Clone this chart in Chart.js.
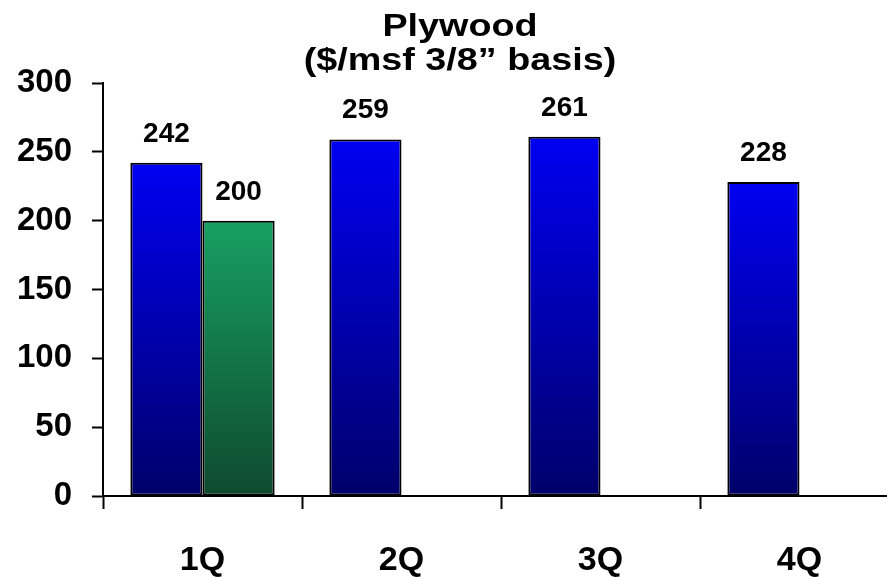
<!DOCTYPE html>
<html>
<head>
<meta charset="utf-8">
<script src="https://cdn.jsdelivr.net/npm/chart.js@4"></script>
<style>
    html, body { margin: 0; padding: 0; background: #fff; overflow: hidden; }
    #wrap { width: 912px; height: 577px; }
</style>
</head>
<body>
<div id="wrap"><canvas id="myChart" width="912" height="577"></canvas></div>
<script>
const quarters = ["1Q", "2Q", "3Q", "4Q"]
const blueValues = [242, 259, 261, 228]
const greenValues = [200, null, null, null]
const yTicks = [0, 50, 100, 150, 200, 250, 300]
const titleLines = ["Plywood", "($/msf 3/8\u201d basis)"]

const fontFamily = "'Liberation Sans', Arial, sans-serif"

function barGradient(top, bottom) {
    return function (context) {
        var chart = context.chart
        if (!chart.chartArea || context.type !== "data" || context.raw == null) {
            return top
        }
        var yScale = chart.scales.y
        var y0 = yScale.getPixelForValue(context.raw)
        var y1 = yScale.getPixelForValue(0)
        var g = chart.ctx.createLinearGradient(0, y0, 0, y1)
        g.addColorStop(0, top)
        g.addColorStop(1, bottom)
        return g
    }
}

// draws the value above each bar
const valueLabels = {
    id: "valueLabels",
    afterDatasetsDraw(chart) {
        var ctx = chart.ctx
        ctx.save()
        ctx.font = "bold 28px " + fontFamily
        ctx.fillStyle = "#000"
        ctx.textAlign = "center"
        ctx.textBaseline = "alphabetic"
        chart.data.datasets.forEach(function (ds, i) {
            chart.getDatasetMeta(i).data.forEach(function (bar, j) {
                if (ds.data[j] == null) return
                ctx.fillText(ds.data[j], bar.x, bar.y - 21)
            })
        })
        ctx.restore()
    }
}

// the title in the original is a bit wider than the font, so stretch it
const wideTitle = {
    id: "wideTitle",
    afterDraw(chart) {
        var ctx = chart.ctx
        ctx.save()
        ctx.font = "bold 32px " + fontFamily
        ctx.fillStyle = "#000"
        ctx.textAlign = "center"
        ctx.textBaseline = "alphabetic"
        ctx.translate(460, 0)
        ctx.scale(1.18, 1)
        ctx.fillText(titleLines[0], 0, 36)
        ctx.fillText(titleLines[1], 0, 70)
        ctx.restore()
    }
}

var ctx = document.getElementById("myChart").getContext("2d")
var chart = new Chart(ctx, {
    type: "bar",
    data: {
        labels: quarters,
        datasets: [{
            data: blueValues,
            backgroundColor: barGradient("#0000f2", "#00006a"),
            borderColor: "#000",
            borderWidth: 2,
            borderSkipped: false,
            barPercentage: 1.0,
            categoryPercentage: 0.725
        }, {
            data: greenValues,
            backgroundColor: barGradient("#18a062", "#0e4a2e"),
            borderColor: "#000",
            borderWidth: 2,
            borderSkipped: false,
            barPercentage: 1.0,
            categoryPercentage: 0.725
        }]
    },
    options: {
        responsive: false,
        animation: false,
        layout: { padding: { left: 0, right: 13, top: 83, bottom: 0 } },
        plugins: {
            legend: { display: false },
            tooltip: { enabled: false },
            title: { display: false }
        },
        scales: {
            x: {
                grid: {
                    offset: true,
                    drawOnChartArea: false,
                    drawTicks: true,
                    tickLength: 13,
                    tickWidth: 2,
                    color: "#000"
                },
                border: { color: "#000", width: 2 },
                ticks: {
                    color: "#000",
                    padding: 31,
                    font: { family: fontFamily, size: 34, weight: "bold" }
                },
                afterFit: function (scale) { scale.height = 81 }
            },
            y: {
                min: 0,
                max: 300,
                afterBuildTicks: function (scale) {
                    scale.ticks = yTicks.map(function (v) { return { value: v } })
                },
                grid: {
                    drawOnChartArea: false,
                    drawTicks: true,
                    tickLength: 11,
                    tickWidth: 2,
                    color: "#000"
                },
                border: { color: "#000", width: 2 },
                ticks: {
                    color: "#000",
                    padding: 20,
                    font: { family: fontFamily, size: 33, weight: "bold" }
                },
                afterFit: function (scale) { scale.width = 103 }
            }
        }
    },
    plugins: [valueLabels, wideTitle]
})
</script>
</body>
</html>
